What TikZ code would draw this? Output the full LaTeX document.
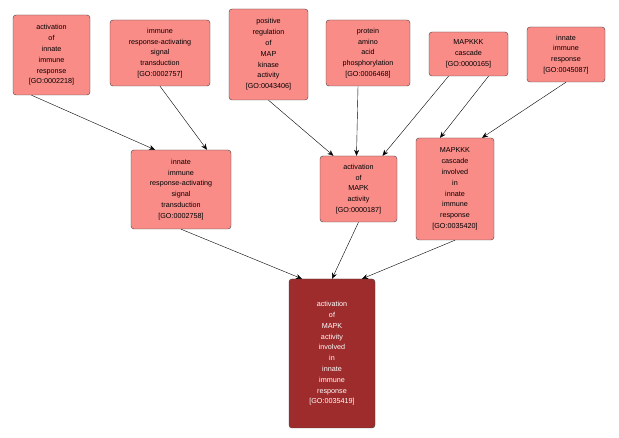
\documentclass[tikz,border=0pt]{standalone}
\usepackage{fontspec}
\setmainfont{Liberation Sans}
\usetikzlibrary{arrows.meta}
\definecolor{lt}{RGB}{250,140,136}
\definecolor{dk}{RGB}{158,44,44}
\begin{document}
\begin{tikzpicture}[x=1pt,y=-1pt,
 go/.style={draw=black!75,fill=lt,rounded corners=3pt,align=center,inner sep=1pt,font=\fontsize{7.2}{10.8}\selectfont},
 gd/.style={go,fill=dk,text=white},
 e/.style={draw=black,-{Stealth[length=6pt,width=5pt]}}]
\useasboundingbox (0,0) rectangle (619,438);
\newcommand\gnode[7]{\node[#1,minimum width=#4,minimum height=#5,text width=#4-2] (#2) at (#3) {#6};}
\node[go,minimum width=77,minimum height=80,text width=75] (n1) at (51.5,55) {activation\\of\\innate\\immune\\response\\{[GO:0002218]}};
\node[go,minimum width=100,minimum height=66,text width=98] (n2) at (160,53) {immune\\response-activating\\signal\\transduction\\{[GO:0002757]}};
\node[go,minimum width=79,minimum height=91,text width=77] (n3) at (268.5,54.5) {positive\\regulation\\of\\MAP\\kinase\\activity\\{[GO:0043406]}};
\node[go,minimum width=84,minimum height=66,text width=82] (n4) at (368,53) {protein\\amino\\acid\\phosphorylation\\{[GO:0006468]}};
\node[go,minimum width=79,minimum height=44,text width=77] (n5) at (468.5,54) {MAPKKK\\cascade\\{[GO:0000165]}};
\node[go,minimum width=78,minimum height=55,text width=76] (n6) at (566,54.5) {innate\\immune\\response\\{[GO:0045087]}};
\node[go,minimum width=100,minimum height=79,text width=98] (n7) at (181,189.5) {innate\\immune\\response-activating\\signal\\transduction\\{[GO:0002758]}};
\node[go,minimum width=77,minimum height=66,text width=75] (n8) at (358.5,189) {activation\\of\\MAPK\\activity\\{[GO:0000187]}};
\node[go,minimum width=78,minimum height=102,text width=76] (n9) at (455,189) {MAPKKK\\cascade\\involved\\in\\innate\\immune\\response\\{[GO:0035420]}};
\node[gd,minimum width=86,minimum height=149,text width=84] (n10) at (332,353.5) {activation\\of\\MAPK\\activity\\involved\\in\\innate\\immune\\response\\{[GO:0035419]}};
\draw[e] ([xshift=-20]n1.south) -- ([xshift=-26]n7.north);
\draw[e] ([xshift=0]n2.south) -- ([xshift=26]n7.north);
\draw[e] ([xshift=0]n3.south) -- ([xshift=-25]n8.north);
\draw[e] ([xshift=-10]n4.south) -- ([xshift=-2]n8.north);
\draw[e] ([xshift=-20]n5.south) -- ([xshift=24]n8.north);
\draw[e] ([xshift=20]n5.south) -- ([xshift=-15]n9.north);
\draw[e] ([xshift=0]n6.south) -- ([xshift=27]n9.north);
\draw[e] (n7.south) -- ([xshift=-30]n10.north);
\draw[e] (n8.south) -- ([xshift=0]n10.north);
\draw[e] (n9.south) -- ([xshift=30]n10.north);
\end{tikzpicture}
\end{document}
